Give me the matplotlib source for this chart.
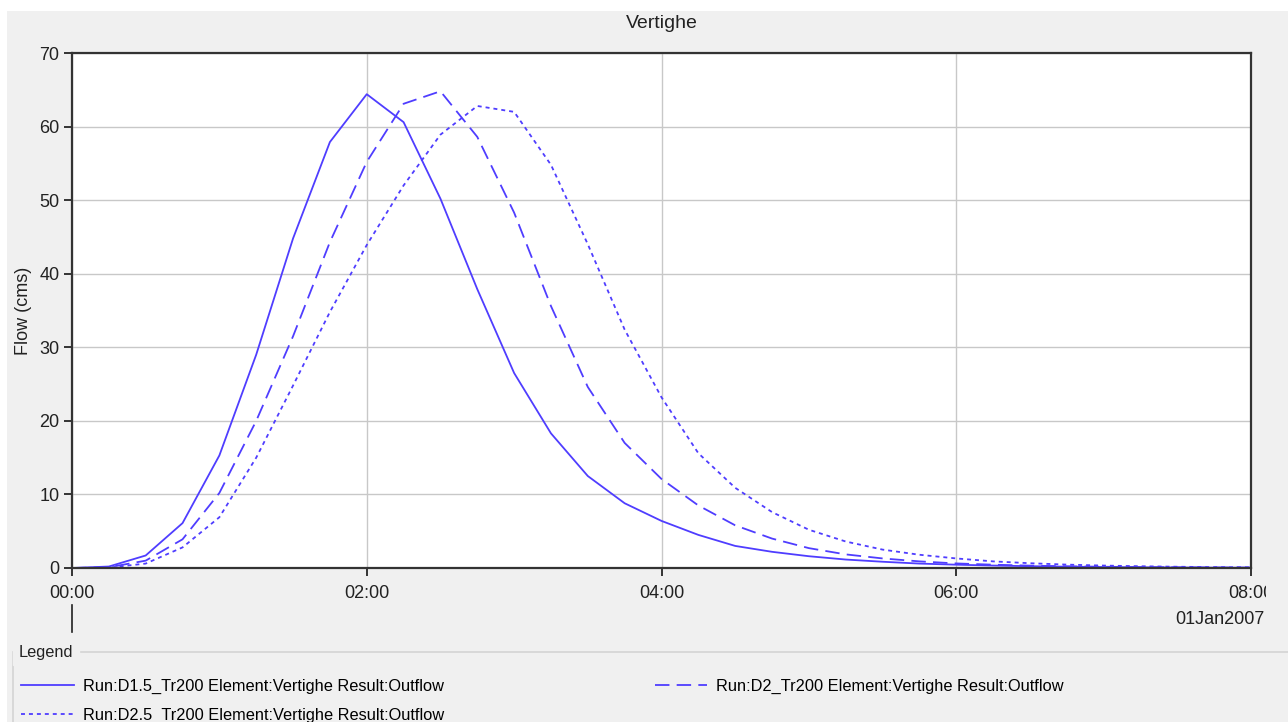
import matplotlib
matplotlib.use('Agg')
import matplotlib.pyplot as plt
import matplotlib.dates as mdates
from matplotlib.patches import Rectangle
from matplotlib.lines import Line2D
from matplotlib.transforms import Bbox
import pandas as pd

plt.rcParams['font.family'] = ['Liberation Sans', 'DejaVu Sans']

# 15-minute outflow hydrographs, 01Jan2007 00:00 - 08:00
times = pd.date_range('2007-01-01 00:00', '2007-01-01 08:00', freq='15min')
flow_d15 = [0, 0.2, 1.7, 6.1, 15.3, 29.0, 44.8, 57.9, 64.4, 60.6, 50.2, 37.9, 26.5,
            18.3, 12.5, 8.8, 6.4, 4.5, 3.0, 2.2, 1.6, 1.15, 0.85, 0.6, 0.45, 0.33,
            0.25, 0.18, 0.13, 0.1, 0.07, 0.05, 0.04]
flow_d2 = [0, 0.1, 1.0, 3.9, 10.2, 20.0, 31.5, 44.3, 55.2, 63.1, 64.8, 58.6, 48.3,
           35.6, 24.6, 17.0, 12.1, 8.5, 5.8, 4.0, 2.7, 1.85, 1.3, 0.9, 0.62, 0.45,
           0.32, 0.23, 0.17, 0.12, 0.09, 0.07, 0.05]
flow_d25 = [0, 0.05, 0.6, 2.8, 6.9, 15.0, 24.8, 34.8, 43.9, 52.0, 58.9, 62.8, 62.0,
            54.8, 44.0, 32.4, 23.2, 15.6, 10.9, 7.6, 5.2, 3.6, 2.5, 1.8, 1.3, 0.9,
            0.65, 0.46, 0.33, 0.24, 0.17, 0.12, 0.09]
labels = ['Run:D1.5_Tr200 Element:Vertighe Result:Outflow',
          'Run:D2_Tr200 Element:Vertighe Result:Outflow',
          'Run:D2.5_Tr200 Element:Vertighe Result:Outflow']
y_ticks = [0, 10, 20, 30, 40, 50, 60, 70]

W, H = 1288, 722
line_color = '#4f3dff'
panel_color = '#f0f0f0'

fig = plt.figure(figsize=(W / 100, H / 100), dpi=100, facecolor='white')


def fx(px):
    return px / W


def fy(py):
    return 1 - py / H


# grey panel behind everything
fig.patches.append(Rectangle((fx(7), 0), 1, fy(11), transform=fig.transFigure,
                             facecolor=panel_color, edgecolor='none', zorder=-10))

ax = fig.add_axes([fx(72), fy(568), fx(1251 - 72), (568 - 53) / H])
ax.set_facecolor('white')

l1, = ax.plot(times, flow_d15, color=line_color, lw=1.3, linestyle='-')
l2, = ax.plot(times, flow_d2, color=line_color, lw=1.3, linestyle=(0, (8, 4)))
l3, = ax.plot(times, flow_d25, color=line_color, lw=1.3, linestyle=(0, (2.2, 2.2)))

ax.set_xlim(times[0], times[-1])
ax.set_ylim(0, 70)
ax.set_yticks(y_ticks)
ax.set_xticks(pd.date_range('2007-01-01 00:00', '2007-01-01 08:00', freq='2h'))
ax.xaxis.set_major_formatter(mdates.DateFormatter('%H:%M'))

ax.grid(True, color='#c8c8c8', lw=1.0)
ax.set_axisbelow(True)
for sp in ax.spines.values():
    sp.set_color('#333333')
    sp.set_linewidth(1.6)
ax.tick_params(axis='both', direction='out', length=6, width=1.4, color='#333333',
               labelsize=13, labelcolor='#222222')
ax.tick_params(axis='x', pad=6)
ax.tick_params(axis='y', pad=3)

ax.set_title('Vertighe', fontsize=14, color='#222222', pad=18)
ax.set_ylabel('Flow (cms)', fontsize=13, color='#222222', labelpad=5)

# the last tick label is cut by the panel edge
fig.canvas.draw()
clip = Bbox.from_extents(0, 0, 1266, H)
for lab in ax.get_xticklabels():
    lab.set_clip_on(True)
    lab.set_clip_box(clip)

# day marker below the time axis
fig.add_artist(Line2D([fx(72), fx(72)], [fy(605), fy(632)], transform=fig.transFigure,
                      color='#222222', lw=1.2))
fig.text(fx(1265), fy(620), '01Jan2007', ha='right', va='center', fontsize=13,
         color='#222222')

# legend panel
fig.patches.append(Rectangle((fx(13), fy(760)), fx(1300), fy(652) - fy(760),
                             transform=fig.transFigure, facecolor=panel_color,
                             edgecolor='#d4d4d4', lw=1.2, zorder=-5))
fig.text(fx(19), fy(652), 'Legend', ha='left', va='center', fontsize=11.8,
         color='#222222', backgroundcolor=panel_color)

fig.legend([l1, l3, l2], [labels[0], labels[2], labels[1]], ncol=2, frameon=False,
           loc='upper left', bbox_to_anchor=(fx(10), fy(667)), fontsize=11.8,
           handlelength=3.2, handletextpad=0.55, columnspacing=12.85,
           labelspacing=0.85, borderpad=0.2)

fig.savefig('out.png', dpi=100, facecolor='white')
